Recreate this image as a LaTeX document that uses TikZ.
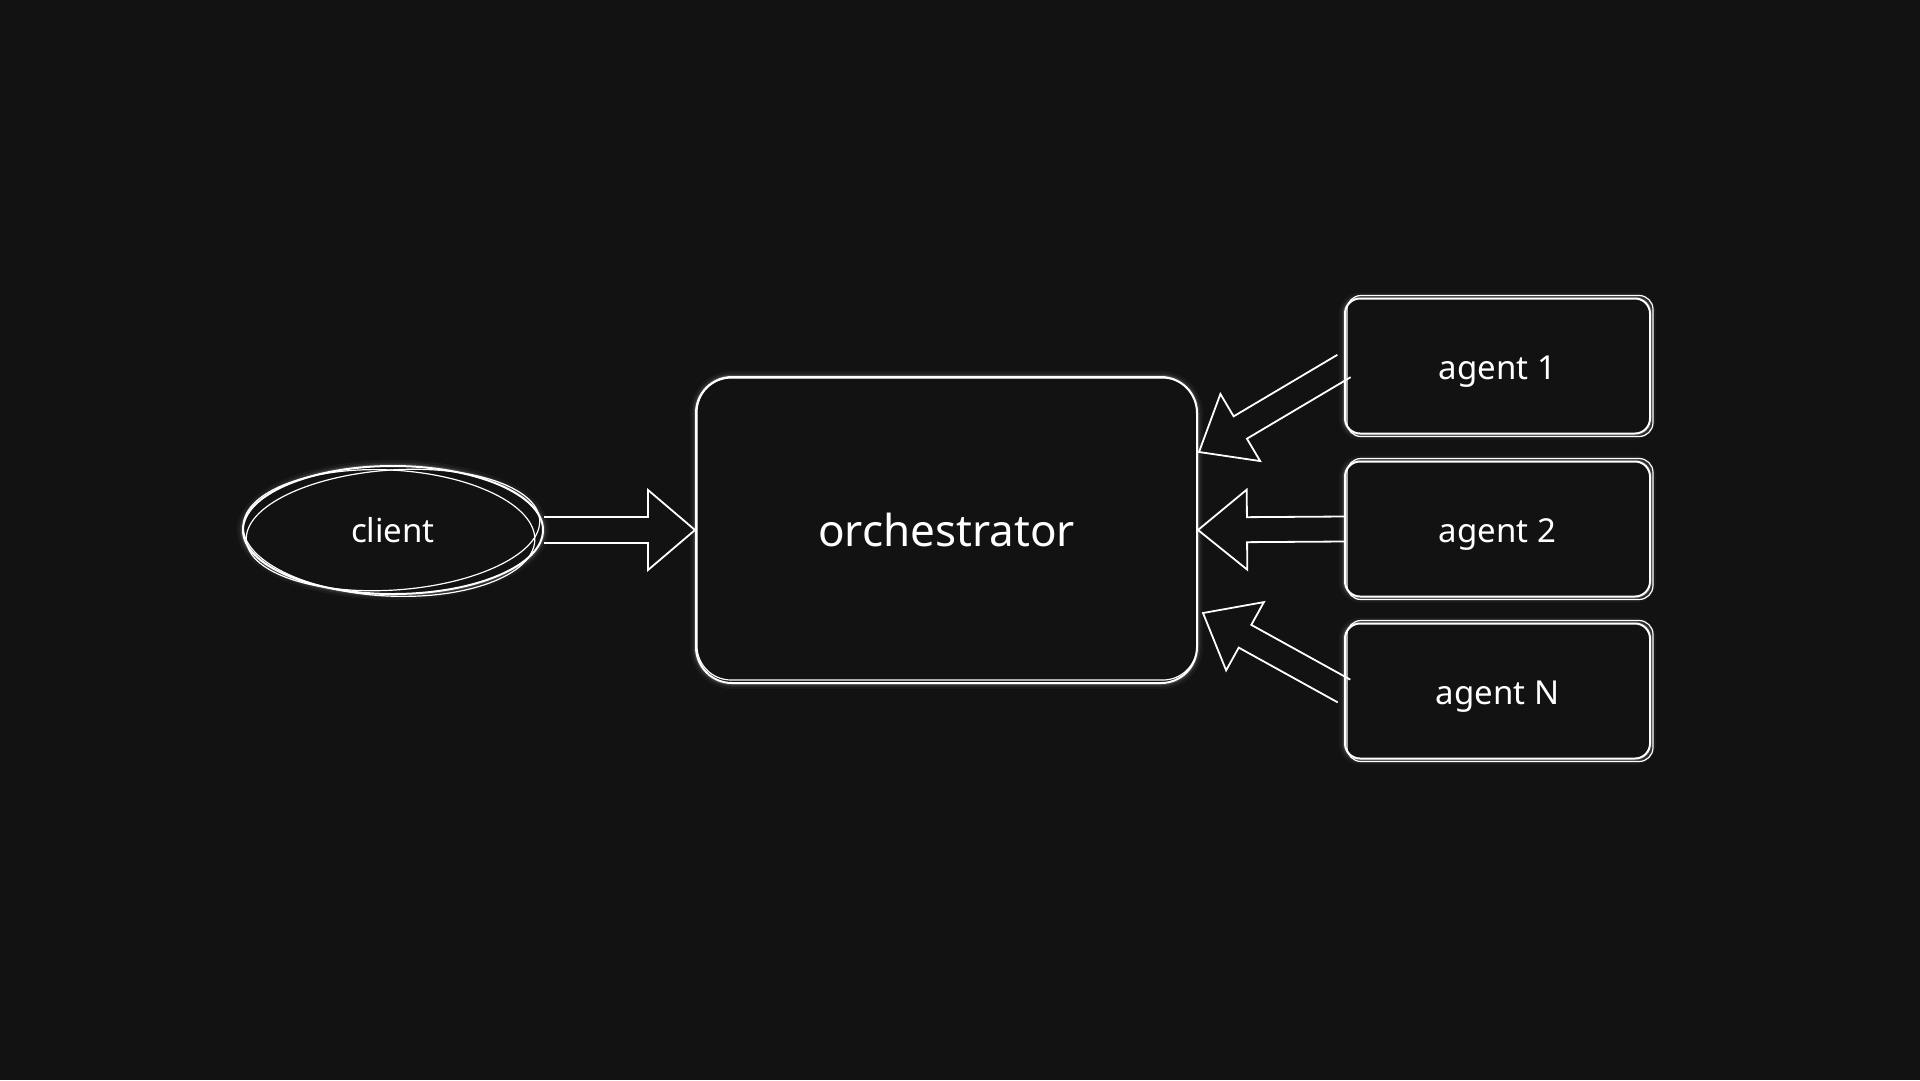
\documentclass[tikz,border=0pt]{standalone}
\usepackage{fontspec}
\setmainfont{Noto Sans}
\usetikzlibrary{shapes.geometric,calc}
\definecolor{bg}{HTML}{121212}
\tikzset{
  glow/.style={preaction={draw=white,line width=12pt,opacity=0.04},
               preaction={draw=white,line width=7pt,opacity=0.07},
               preaction={draw=white,line width=4pt,opacity=0.12}},
  boxstyle/.style={draw=white,line width=2pt,fill=bg,text=white,glow},
  skline/.style={draw=white,line width=1.2pt},
  blk/.style={draw=white,line width=1.8pt,line join=miter},
  agentbox/.style={boxstyle,rounded corners=15pt,minimum width=305pt,minimum height=135pt,
     font=\fontsize{33}{38}\selectfont},
}
\newcommand{\lowered}[1]{\raisebox{-6pt}[\height][\depth]{#1}}
\newcommand{\blockarr}[5]{%
  \coordinate (BAc) at ($(#2)!#3!(#1)$);
  \draw[blk] ($(#1)!#5!90:(#2)$) -- ($(BAc)!#5!-90:(#1)$) -- ($(BAc)!#4!-90:(#1)$) -- (#2)
     -- ($(BAc)!#4!90:(#1)$) -- ($(BAc)!#5!90:(#1)$) -- ($(#1)!#5!-90:(#2)$);
}
\begin{document}
\begin{tikzpicture}[x=1pt,y=-1pt]
\fill[bg] (0,0) rectangle (1920,1080);
\useasboundingbox (0,0) rectangle (1920,1080);

% client
\node[boxstyle,ellipse,minimum width=300pt,minimum height=128pt,inner sep=0pt,
      font=\fontsize{33}{38}\selectfont] (client) at (393,530) {client};
\draw[skline] (client.center) ellipse [x radius=147, y radius=60, rotate=4];
\draw[skline] ($(client.center)+(-4,3)$) ellipse [x radius=146, y radius=63, rotate=-3];

% orchestrator
\node[boxstyle,rounded corners=36pt,minimum width=501pt,minimum height=306pt,
      font=\fontsize{44}{50}\selectfont] (orch) at (946.5,530) {orchestrator};
\draw[skline,rounded corners=34pt] ([shift={(2,2)}]orch.north west) rectangle ([shift={(-1,-4)}]orch.south east);

% agents
\node[agentbox] (a1) at (1497.5,366) {\lowered{agent 1}};
\node[agentbox] (a2) at (1497.5,529) {\lowered{agent 2}};
\node[agentbox] (aN) at (1497.5,691) {\lowered{agent N}};
\foreach \n in {a1,a2,aN}{
  \draw[skline,rounded corners=14pt] ([shift={(3,-2)}]\n.north west) rectangle ([shift={(2,2)}]\n.south east);
}

% connectors
\coordinate (t1) at ([shift={(1,-78)}]orch.east);
\coordinate (tN) at ([shift={(5,83)}]orch.east);
\blockarr{client.east}{orch.west}{47pt}{40pt}{13pt}
\blockarr{a2.west}{orch.east}{49pt}{40pt}{12.5pt}
\blockarr{a1.west}{t1}{48pt}{39pt}{13pt}
\blockarr{aN.west}{tN}{48pt}{39pt}{13pt}
\end{tikzpicture}
\end{document}
